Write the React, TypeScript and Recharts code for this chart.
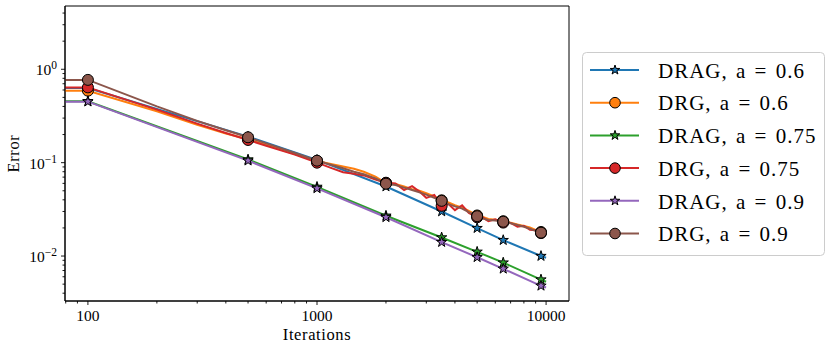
import React from 'react';
import { LineChart, Line, XAxis, YAxis, Legend, ReferenceArea } from 'recharts';

// ---------- data ----------
const ITER_DRAG = [79.43, 100, 500, 1000, 2000, 3500, 5000, 6500, 9500, 10000];
const DRAG_A06 = [0.63, 0.63, 0.19, 0.107, 0.0555, 0.030, 0.0199, 0.0148, 0.0100, 0.0096];
const DRAG_A075 = [0.455, 0.455, 0.108, 0.055, 0.027, 0.0158, 0.0111, 0.0085, 0.0056, 0.0053];
const DRAG_A09 = [0.45, 0.45, 0.105, 0.053, 0.026, 0.0141, 0.0097, 0.0073, 0.0048, 0.0046];

const ITER_DRG = [
  79.43, 100, 200, 300, 400, 500, 600, 800, 1000, 1150, 1300, 1450, 1600, 1800, 2000, 2200, 2400, 2600,
  2800, 3000, 3250, 3500, 3750, 4000, 4300, 4600, 5000, 5300, 5600, 6000, 6500, 7000, 7500, 8000, 8500,
  9000, 9500, 10000,
];
const DRG_A06 = [
  0.59, 0.59, 0.355, 0.255, 0.205, 0.178, 0.155, 0.124, 0.104, 0.097, 0.091, 0.086, 0.080, 0.071, 0.0605,
  0.059, 0.0555, 0.052, 0.050, 0.047, 0.0435, 0.0395, 0.0375, 0.035, 0.033, 0.0305, 0.0272, 0.0262, 0.025,
  0.0245, 0.0236, 0.0228, 0.0218, 0.021, 0.0202, 0.019, 0.0181, 0.018,
];
const DRG_A075 = [
  0.64, 0.64, 0.37, 0.262, 0.208, 0.175, 0.152, 0.122, 0.100, 0.088, 0.079, 0.076, 0.073, 0.066, 0.061,
  0.060, 0.051, 0.056, 0.049, 0.042, 0.045, 0.0345, 0.036, 0.031, 0.035, 0.029, 0.026, 0.0258, 0.0236,
  0.0247, 0.0228, 0.0226, 0.0206, 0.0211, 0.0191, 0.0189, 0.0176, 0.0172,
];
const DRG_A09 = [
  0.77, 0.77, 0.40, 0.28, 0.222, 0.187, 0.161, 0.127, 0.105, 0.095, 0.087, 0.080, 0.075, 0.068, 0.0595,
  0.0575, 0.054, 0.051, 0.048, 0.0455, 0.042, 0.039, 0.036, 0.034, 0.0322, 0.0295, 0.0267, 0.0252, 0.0243,
  0.024, 0.0233, 0.0224, 0.0215, 0.0206, 0.0196, 0.0186, 0.0178, 0.0174,
];

const MARKER_ITERS = [100, 500, 1000, 2000, 3500, 5000, 6500, 9500];

const X_DOMAIN = [79.43, 12589];
const Y_DOMAIN = [0.0033, 4.76];
const X_TICKS = [80, 90, 100, 200, 300, 400, 500, 600, 700, 800, 900, 1000, 2000, 3000, 4000, 5000, 6000, 7000, 8000, 9000, 10000];
const Y_TICKS = [
  0.004, 0.005, 0.006, 0.007, 0.008, 0.009, 0.01, 0.02, 0.03, 0.04, 0.05, 0.06, 0.07, 0.08, 0.09, 0.1,
  0.2, 0.3, 0.4, 0.5, 0.6, 0.7, 0.8, 0.9, 1, 2, 3, 4,
];

const SERIES = [
  { name: 'DRAG, a = 0.6', color: '#1f77b4', shape: 'star', xs: ITER_DRAG, ys: DRAG_A06 },
  { name: 'DRG, a = 0.6', color: '#ff7f0e', shape: 'circle', xs: ITER_DRG, ys: DRG_A06 },
  { name: 'DRAG, a = 0.75', color: '#2ca02c', shape: 'star', xs: ITER_DRAG, ys: DRAG_A075 },
  { name: 'DRG, a = 0.75', color: '#d62728', shape: 'circle', xs: ITER_DRG, ys: DRG_A075 },
  { name: 'DRAG, a = 0.9', color: '#9467bd', shape: 'star', xs: ITER_DRAG, ys: DRAG_A09 },
  { name: 'DRG, a = 0.9', color: '#8c564b', shape: 'circle', xs: ITER_DRG, ys: DRG_A09 },
];

// ---------- helpers ----------
const FONT = '"Liberation Serif", serif';
const MARK_SET = new Set(MARKER_ITERS);
const isMajor = (v: number) => Math.abs(Math.log10(v) - Math.round(Math.log10(v))) < 1e-9;

function starPath(cx: number, cy: number, R: number) {
  const r = R * 0.381966;
  let d = '';
  for (let i = 0; i < 10; i++) {
    const rad = i % 2 === 0 ? R : r;
    const a = (-90 + i * 36) * (Math.PI / 180);
    d += (i === 0 ? 'M' : 'L') + (cx + rad * Math.cos(a)).toFixed(2) + ',' + (cy + rad * Math.sin(a)).toFixed(2);
  }
  return d + 'Z';
}

function Marker({ shape, color, cx, cy, small }: any) {
  if (shape === 'star') {
    return <path d={starPath(cx, cy, small ? 5 : 5.4)} fill={color} stroke="#000" strokeWidth={1} />;
  }
  return <circle cx={cx} cy={cy} r={small ? 5.3 : 5.5} fill={color} stroke="#000" strokeWidth={1} />;
}

const makeDot = (color: string, shape: string) => (props: any) => {
  const { cx, cy, payload, index } = props;
  if (cx == null || cy == null || !payload || !MARK_SET.has(payload.x)) return <g key={`e${index}`} />;
  return (
    <g key={`d${index}`}>
      <Marker shape={shape} color={color} cx={cx} cy={cy} />
    </g>
  );
};

const XTick = (props: any) => {
  const { x, y, payload } = props;
  const v = payload.value;
  const major = isMajor(v);
  return (
    <g>
      <line x1={x} x2={x} y1={y} y2={y + (major ? 4 : 2.5)} stroke="#000" strokeWidth={0.9} />
      {major && (
        <text x={x} y={y + 20} textAnchor="middle" fontFamily={FONT} fontSize={15.5} fill="#000">
          {String(v)}
        </text>
      )}
    </g>
  );
};

const YTick = (props: any) => {
  const { x, y, payload } = props;
  const v = payload.value;
  const major = isMajor(v);
  const k = Math.round(Math.log10(v));
  return (
    <g>
      <line x1={x - (major ? 4 : 2.5)} x2={x} y1={y} y2={y} stroke="#000" strokeWidth={0.9} />
      {major && (
        <text x={x - 8} y={y + 6} textAnchor="end" fontFamily={FONT} fontSize={15.5} fill="#000">
          <tspan>10</tspan>
          <tspan dy={-6} fontSize={11.5}>{k === 0 ? '0' : '\u2212' + Math.abs(k)}</tspan>
        </text>
      )}
    </g>
  );
};

const XTitle = (props: any) => {
  const vb = props.viewBox || { x: 65, y: 301, width: 504, height: 49 };
  return (
    <text x={vb.x + vb.width / 2} y={vb.y + 39} textAnchor="middle" fontFamily={FONT} fontSize={16.5} fill="#000" letterSpacing={0.6}>
      Iterations
    </text>
  );
};

const YTitle = (props: any) => {
  const vb = props.viewBox || { x: 0, y: 6, width: 65, height: 295 };
  const cx = 19;
  const cy = vb.y + vb.height / 2;
  return (
    <text x={cx} y={cy} transform={`rotate(-90, ${cx}, ${cy})`} textAnchor="middle" fontFamily={FONT} fontSize={16.5} fill="#000" letterSpacing={0.6}>
      Error
    </text>
  );
};

const LegendBox = () => (
  <svg width={244} height={205} style={{ display: 'block' }}>
    <rect x={0.5} y={0.5} width={242} height={203} rx={4} ry={4} fill="rgba(255,255,255,0.8)" stroke="#cccccc" strokeWidth={1} />
    {SERIES.map((s, i) => {
      const cy = 18 + i * 32.7;
      return (
        <g key={s.name}>
          <line x1={8} x2={57} y1={cy} y2={cy} stroke={s.color} strokeWidth={2} />
          <Marker shape={s.shape} color={s.color} cx={33} cy={cy} small />
          <text x={76} y={cy + 7.7} fontFamily={FONT} fontSize={21} fill="#000" letterSpacing={1} wordSpacing={2}>
            {s.name}
          </text>
        </g>
      );
    })}
  </svg>
);

export default function App() {
  return (
    <div style={{ position: 'absolute', left: 0, top: 0, width: 831, height: 350, background: '#fff' }}>
      <LineChart width={831} height={350} margin={{ top: 6, right: 262, bottom: 0, left: 0 }}>
        <XAxis
          xAxisId="x"
          dataKey="x"
          type="number"
          scale="log"
          domain={X_DOMAIN}
          allowDataOverflow
          ticks={X_TICKS}
          interval={0}
          tick={<XTick />}
          tickLine={false}
          tickSize={0}
          tickMargin={0}
          height={49}
          axisLine={{ stroke: '#000', strokeWidth: 1 }}
          label={<XTitle />}
        />
        <YAxis
          yAxisId="y"
          type="number"
          scale="log"
          domain={Y_DOMAIN}
          allowDataOverflow
          ticks={Y_TICKS}
          interval={0}
          tick={<YTick />}
          tickLine={false}
          tickSize={0}
          tickMargin={0}
          width={65}
          axisLine={{ stroke: '#000', strokeWidth: 1 }}
          label={<YTitle />}
        />
        <Legend
          layout="horizontal"
          verticalAlign="middle"
          align="center"
          content={<LegendBox />}
          wrapperStyle={{ left: 582, top: 52, width: 244, height: 205, margin: 0, padding: 0 }}
        />
        {SERIES.map((s) => (
          <Line
            key={s.name}
            xAxisId="x"
            yAxisId="y"
            name={s.name}
            data={s.xs.map((x, i) => ({ x, y: s.ys[i] }))}
            dataKey="y"
            type="linear"
            stroke={s.color}
            strokeWidth={2}
            dot={makeDot(s.color, s.shape)}
            activeDot={false}
            isAnimationActive={false}
          />
        ))}
        <ReferenceArea
          xAxisId="x"
          yAxisId="y"
          x1={X_DOMAIN[0]}
          x2={X_DOMAIN[1]}
          y1={Y_DOMAIN[0]}
          y2={Y_DOMAIN[1]}
          fill="none"
          fillOpacity={0}
          stroke="#000"
          strokeWidth={1}
          ifOverflow="visible"
        />
      </LineChart>
    </div>
  );
}
